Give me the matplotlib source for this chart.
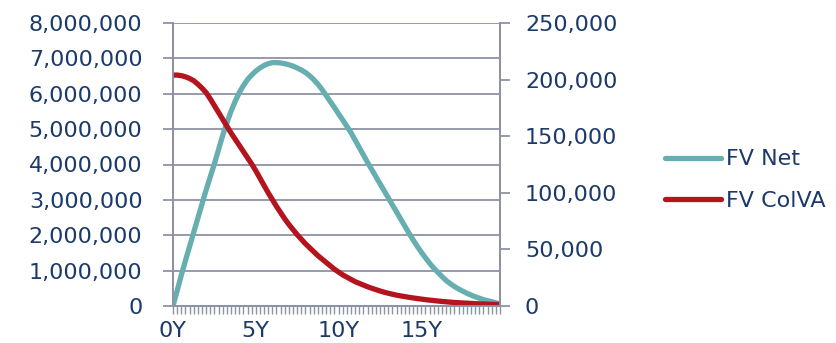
import matplotlib.pyplot as plt
from matplotlib.ticker import FuncFormatter

# Quarterly grid, 0Y .. 19.75Y
quarters = list(range(80))
tick_labels = ['0Y', '5Y', '10Y', '15Y']

# FV Net (left axis)
fv_net = [
    0.00, 0.43, 0.87, 1.28, 1.68, 2.08, 2.48, 2.88, 3.28, 3.65,
    4.02, 4.42, 4.82, 5.17, 5.50, 5.78, 6.03, 6.23, 6.40, 6.53,
    6.64, 6.73, 6.80, 6.85, 6.88, 6.88, 6.87, 6.85, 6.82, 6.78,
    6.73, 6.67, 6.60, 6.51, 6.40, 6.27, 6.12, 5.95, 5.78, 5.61,
    5.43, 5.26, 5.08, 4.90, 4.69, 4.48, 4.27, 4.06, 3.86, 3.66,
    3.46, 3.26, 3.06, 2.86, 2.66, 2.46, 2.26, 2.06, 1.87, 1.69,
    1.52, 1.36, 1.21, 1.07, 0.95, 0.83, 0.72, 0.63, 0.55, 0.48,
    0.42, 0.36, 0.31, 0.26, 0.22, 0.18, 0.15, 0.12, 0.09, 0.06,
]
fv_net = [v * 1e6 for v in fv_net]

# FV ColVA (right axis)
fv_colva = [
    204.0, 204.0, 203.5, 202.5, 201.0, 199.0, 196.0, 192.5, 188.5, 183.0,
    177.0, 171.0, 165.0, 159.0, 153.0, 147.5, 142.0, 136.5, 131.0, 125.5,
    119.5, 113.0, 106.5, 100.0, 94.0, 88.0, 82.5, 77.0, 72.0, 67.5,
    63.0, 59.0, 55.0, 51.5, 48.0, 44.5, 41.5, 38.5, 35.5, 32.5,
    30.0, 27.5, 25.5, 23.5, 21.5, 20.0, 18.5, 17.0, 15.7, 14.5,
    13.3, 12.2, 11.3, 10.4, 9.6, 8.9, 8.3, 7.7, 7.1, 6.6,
    6.1, 5.6, 5.2, 4.8, 4.4, 4.0, 3.7, 3.4, 3.1, 2.9,
    2.7, 2.5, 2.3, 2.1, 1.9, 1.8, 1.6, 1.5, 1.4, 1.3,
]
fv_colva = [v * 1e3 for v in fv_colva]

teal = '#66AEB0'
red = '#B3141E'
navy = '#1B3A6B'
grey = '#8E92A4'

plt.rcParams['font.family'] = 'DejaVu Sans'

fig = plt.figure(figsize=(8.36, 3.43), dpi=100)
ax = fig.add_axes([173 / 836, 1 - 306 / 343, 327 / 836, 283 / 343])
ax2 = ax.twinx()

l1, = ax.plot(quarters, fv_net, color=teal, lw=3.8, solid_capstyle='round', label='FV Net')
l2, = ax2.plot(quarters, fv_colva, color=red, lw=3.8, solid_capstyle='round', label='FV ColVA')

ax.set_xlim(0, 79)
ax.set_ylim(0, 8e6)
ax2.set_ylim(0, 250000)

fmt = FuncFormatter(lambda v, p: f'{v:,.0f}')
ax.set_yticks([i * 1e6 for i in range(9)])
ax2.set_yticks([i * 50000 for i in range(6)])
ax.yaxis.set_major_formatter(fmt)
ax2.yaxis.set_major_formatter(fmt)

# every quarter gets a tick, labels every 5 years
ax.set_xticks(quarters)
ax.set_xticklabels([tick_labels[q // 20] if q % 20 == 0 else '' for q in quarters])

ax.grid(axis='y', color=grey, lw=1.3)
ax.set_axisbelow(True)

for a in (ax, ax2):
    for s in a.spines.values():
        s.set_color(grey)
        s.set_linewidth(1.3)
    a.spines['top'].set_visible(False)

ax.tick_params(axis='y', direction='out', length=7, width=1.3, color=grey,
               labelsize=16, labelcolor=navy, pad=15)
ax2.tick_params(axis='y', direction='out', length=7, width=1.3, color=grey,
                labelsize=16, labelcolor=navy, pad=11)
ax.tick_params(axis='x', direction='out', length=6, width=1.0, color=grey,
               labelsize=16, labelcolor=navy, pad=5)

leg = fig.legend(handles=[l1, l2], loc='center left', bbox_to_anchor=(665 / 836, 1 - 180 / 343),
                 frameon=False, fontsize=16, handlelength=2.5, handletextpad=0.25,
                 labelspacing=0.95, borderpad=0, borderaxespad=0)
for t in leg.get_texts():
    t.set_color(navy)

fig.savefig('out.png', dpi=100)
